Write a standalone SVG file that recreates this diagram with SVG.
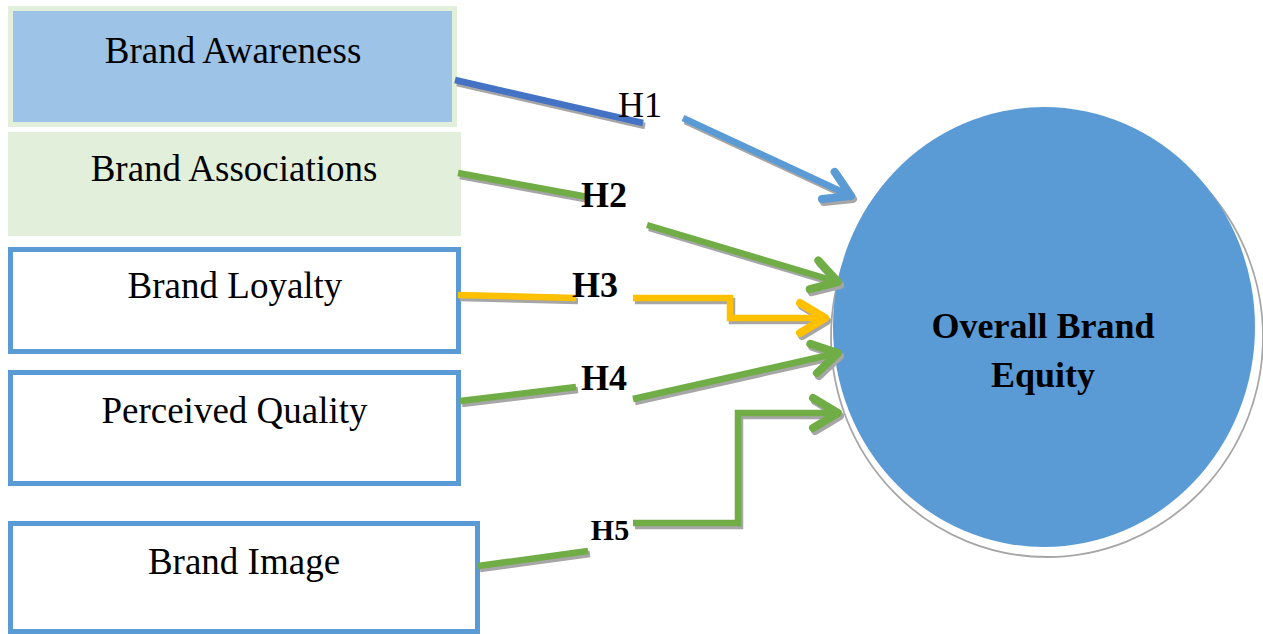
<svg xmlns="http://www.w3.org/2000/svg" width="1263" height="634" viewBox="0 0 1263 634">
<style>
.box{font-family:"Liberation Serif","Times New Roman",serif;font-size:37px;fill:#000;text-anchor:middle}
.lbl{font-family:"Liberation Serif","Times New Roman",serif;font-size:36px;fill:#000;text-anchor:middle}
.b{font-weight:bold}
.ln{fill:none;stroke-width:6.5;stroke-linejoin:miter}
.sh{stroke:#a6a6a6}
.outl{fill:#fff;stroke:#5b9bd5;stroke-width:5}
</style>
<defs>
<marker id="aB" markerUnits="userSpaceOnUse" viewBox="-34 -22 42 44" markerWidth="42" markerHeight="44" refX="0" refY="0" orient="auto"><path d="M-25,-15 L0,0 L-25,15" fill="none" stroke="#5b9bd5" stroke-width="8" stroke-linecap="round" stroke-linejoin="round"/></marker>
<marker id="aG" markerUnits="userSpaceOnUse" viewBox="-34 -22 42 44" markerWidth="42" markerHeight="44" refX="0" refY="0" orient="auto"><path d="M-25,-15 L0,0 L-25,15" fill="none" stroke="#70ad47" stroke-width="8" stroke-linecap="round" stroke-linejoin="round"/></marker>
<marker id="aY" markerUnits="userSpaceOnUse" viewBox="-34 -22 42 44" markerWidth="42" markerHeight="44" refX="0" refY="0" orient="auto"><path d="M-25,-15 L0,0 L-25,15" fill="none" stroke="#ffc000" stroke-width="8" stroke-linecap="round" stroke-linejoin="round"/></marker>
<marker id="aS" markerUnits="userSpaceOnUse" viewBox="-34 -22 42 44" markerWidth="42" markerHeight="44" refX="0" refY="0" orient="auto"><path d="M-25,-15 L0,0 L-25,15" fill="none" stroke="#a6a6a6" stroke-width="8" stroke-linecap="round" stroke-linejoin="round"/></marker>
</defs>
<rect width="1263" height="634" fill="#fff"/>

<g id="node-awareness">
<rect x="10.5" y="8.5" width="444" height="116" fill="#9dc3e6" stroke="#e2efda" stroke-width="5"/>
<text class="box" x="233" y="63">Brand Awareness</text>
</g>
<g id="node-associations">
<rect x="8" y="132" width="453" height="104" fill="#e2efda"/>
<text class="box" x="234" y="181">Brand Associations</text>
</g>
<g id="node-loyalty">
<rect class="outl" x="10.5" y="249.5" width="448" height="102"/>
<text class="box" x="235" y="298">Brand Loyalty</text>
</g>
<g id="node-quality">
<rect class="outl" x="10.5" y="372.5" width="448" height="111"/>
<text class="box" x="234.5" y="423">Perceived Quality</text>
</g>
<g id="node-image">
<rect class="outl" x="10.5" y="523.5" width="467" height="108"/>
<text class="box" x="244" y="574">Brand Image</text>
</g>

<g id="node-equity">
<ellipse cx="1047" cy="337" rx="216" ry="220" fill="#fff" stroke="#a6a6a6" stroke-width="1.8"/>
<ellipse cx="1044" cy="327" rx="211" ry="220" fill="#5b9bd5"/>
<text class="lbl b" x="1043" y="338">Overall Brand</text>
<text class="lbl b" x="1043" y="387">Equity</text>
</g>

<g id="connectors">
<g transform="translate(2,3)">
<path class="ln sh" d="M455,80 L643,123"/>
<path class="ln sh" d="M683,118 L851,196" marker-end="url(#aS)"/>
<path class="ln sh" d="M458,173 L588,197"/>
<path class="ln sh" d="M647,225 L838,282" marker-end="url(#aS)"/>
<path class="ln sh" d="M458,295 L576,298"/>
<path class="ln sh" d="M633,298 L730,298 L730,318 L825,318" marker-end="url(#aS)"/>
<path class="ln sh" d="M460,401 L576,387"/>
<path class="ln sh" d="M633,399 L838,353" marker-end="url(#aS)"/>
<path class="ln sh" d="M478,566 L588,551"/>
<path class="ln sh" d="M633,523 L738,523 L738,413 L838,413" marker-end="url(#aS)"/>
</g>
<path class="ln" stroke="#4472c4" d="M455,80 L643,123"/>
<path class="ln" stroke="#5b9bd5" d="M683,118 L851,196" marker-end="url(#aB)"/>
<path class="ln" stroke="#70ad47" d="M458,173 L588,197"/>
<path class="ln" stroke="#70ad47" d="M647,225 L838,282" marker-end="url(#aG)"/>
<path class="ln" stroke="#ffc000" d="M458,295 L576,298"/>
<path class="ln" stroke="#ffc000" d="M633,298 L730,298 L730,318 L825,318" marker-end="url(#aY)"/>
<path class="ln" stroke="#70ad47" d="M460,401 L576,387"/>
<path class="ln" stroke="#70ad47" d="M633,399 L838,353" marker-end="url(#aG)"/>
<path class="ln" stroke="#70ad47" d="M478,566 L588,551"/>
<path class="ln" stroke="#70ad47" d="M633,523 L738,523 L738,413 L838,413" marker-end="url(#aG)"/>
<text class="lbl" x="640" y="117">H1</text>
<text class="lbl b" x="604" y="207">H2</text>
<text class="lbl b" x="595" y="297">H3</text>
<text class="lbl b" x="604" y="390">H4</text>
<text class="lbl b" x="610" y="540" style="font-size:30px">H5</text>
</g>
</svg>
